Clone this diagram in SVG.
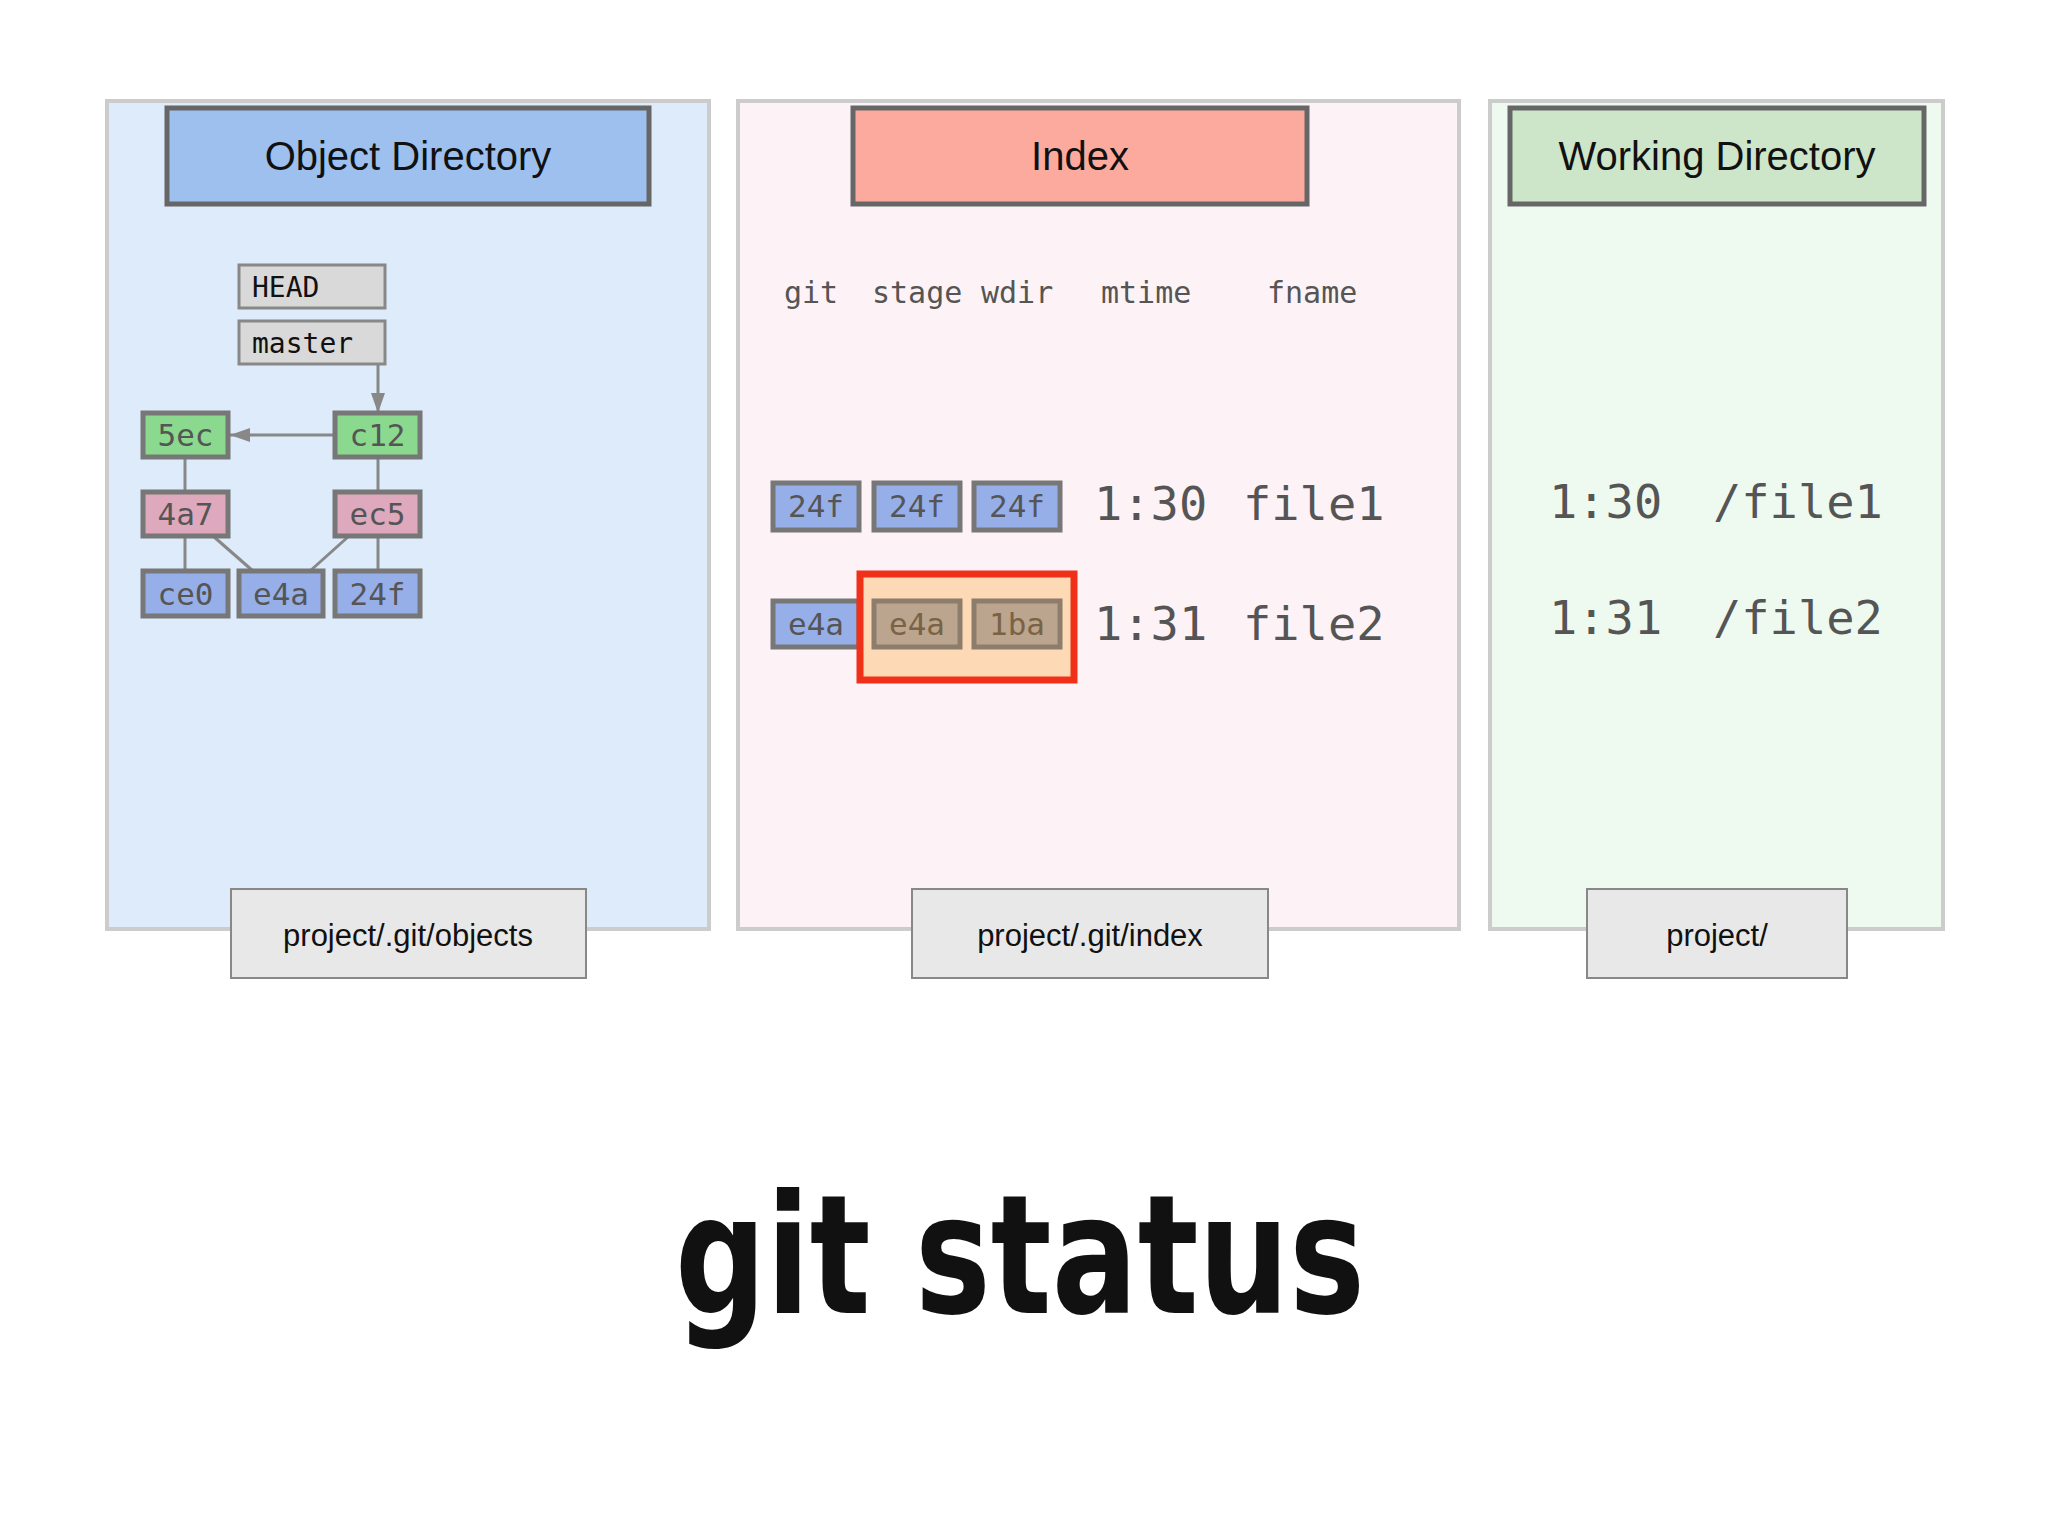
<svg xmlns="http://www.w3.org/2000/svg" width="2048" height="1536" viewBox="0 0 2048 1536">
<style>
.panel{stroke:#cccccc;stroke-width:4}
.title{stroke:#666;stroke-width:5}
.tt{font-family:"Liberation Sans",Arial,sans-serif;font-size:40px;fill:#111;text-anchor:middle}
.lab{fill:#e8e8e8;stroke:#888;stroke-width:2}
.lt{font-family:"Liberation Sans",Arial,sans-serif;font-size:31px;fill:#111;text-anchor:middle}
.ref{fill:#d9d9d9;stroke:#888;stroke-width:3}
.mono{font-family:"DejaVu Sans Mono","Liberation Mono",monospace}
.rt{font-size:28px;fill:#111}
.n{stroke:#777;stroke-width:5}
.g{fill:#8ad98f}.p{fill:#dfa9bd}.b{fill:#97afe8}.h{fill:#bba58f;stroke:#8d7d6d}
.nt{font-size:31px;fill:#555;text-anchor:middle}
.ht{fill:#7a6244}
.col{font-size:30px;fill:#555}
.big{font-size:47px;fill:#555}
.ln{stroke:#888;stroke-width:3;fill:none}
</style>
<defs>
<marker id="ah2" markerWidth="20" markerHeight="20" refX="20" refY="10" orient="auto" markerUnits="userSpaceOnUse"><path d="M0,3 L20,10 L0,17 z" fill="#888"/></marker></defs>
<rect width="2048" height="1536" fill="#fff"/>
<g id="panel-objects"><rect class="panel" x="107" y="101" width="602" height="828" fill="#deebfb"/>
<rect class="title" x="167" y="108" width="482" height="96" fill="#9dc0ef"/><text class="tt" x="408" y="170">Object Directory</text>
<rect class="lab" x="231" y="889" width="355" height="89"/><text class="lt" x="408" y="946">project/.git/objects</text></g>
<g id="panel-index"><rect class="panel" x="738" y="101" width="721" height="828" fill="#fdf3f6"/>
<rect class="title" x="853" y="108" width="454" height="96" fill="#fcaa9e"/><text class="tt" x="1080" y="170">Index</text>
<rect class="lab" x="912" y="889" width="356" height="89"/><text class="lt" x="1090" y="946">project/.git/index</text></g>
<g id="panel-wdir"><rect class="panel" x="1490" y="101" width="453" height="828" fill="#eefaf0"/>
<rect class="title" x="1510" y="108" width="414" height="96" fill="#cde5c8"/><text class="tt" x="1717" y="170">Working Directory</text>
<rect class="lab" x="1587" y="889" width="260" height="89"/><text class="lt" x="1717" y="946">project/</text></g>
<g id="connectors">
<line class="ln" x1="378" y1="364" x2="378" y2="413" marker-end="url(#ah2)"/>
<line class="ln" x1="335" y1="435" x2="230" y2="435" marker-end="url(#ah2)"/>
<line class="ln" x1="185" y1="457" x2="185" y2="492"/>
<line class="ln" x1="378" y1="457" x2="378" y2="492"/>
<line class="ln" x1="185" y1="536" x2="185" y2="571"/>
<line class="ln" x1="378" y1="536" x2="378" y2="571"/>
<line class="ln" x1="213" y1="536" x2="253" y2="571"/>
<line class="ln" x1="349" y1="536" x2="310" y2="571"/>
</g>
<g id="HEAD"><rect class="ref" x="239" y="265" width="146" height="43"/><text class="mono rt" x="252" y="297">HEAD</text></g>
<g id="master"><rect class="ref" x="239" y="321" width="146" height="43"/><text class="mono rt" x="252" y="353">master</text></g>
<g id="n5ec"><rect class="n g" x="143" y="413" width="85" height="44"/><text class="mono nt" x="185.5" y="446">5ec</text></g>
<g id="nc12"><rect class="n g" x="335" y="413" width="85" height="44"/><text class="mono nt" x="377.5" y="446">c12</text></g>
<g id="n4a7"><rect class="n p" x="143" y="492" width="85" height="44"/><text class="mono nt" x="185.5" y="525">4a7</text></g>
<g id="nec5"><rect class="n p" x="335" y="492" width="85" height="44"/><text class="mono nt" x="377.5" y="525">ec5</text></g>
<g id="nce0"><rect class="n b" x="143" y="571" width="85" height="45"/><text class="mono nt" x="185.5" y="605">ce0</text></g>
<g id="ne4a"><rect class="n b" x="239" y="571" width="84" height="45"/><text class="mono nt" x="281" y="605">e4a</text></g>
<g id="n24f"><rect class="n b" x="335" y="571" width="85" height="45"/><text class="mono nt" x="377.5" y="605">24f</text></g>
<g id="index-header" class="mono col"><text x="784" y="303">git</text><text x="872" y="303">stage</text><text x="981" y="303">wdir</text><text x="1101" y="303">mtime</text><text x="1267" y="303">fname</text></g>
<g id="row1">
<rect class="n b" x="773" y="483" width="86" height="47"/><text class="mono nt" x="816" y="517">24f</text>
<rect class="n b" x="874" y="483" width="86" height="47"/><text class="mono nt" x="917" y="517">24f</text>
<rect class="n b" x="974" y="483" width="86" height="47"/><text class="mono nt" x="1017" y="517">24f</text>
<text class="mono big" x="1094" y="520">1:30</text><text class="mono big" x="1243" y="520">file1</text></g>
<g id="row2">
<rect class="n b" x="773" y="601" width="86" height="46"/><text class="mono nt" x="816" y="635">e4a</text>
<rect x="860" y="574" width="214" height="106" fill="#fdd9b5" stroke="#f03018" stroke-width="7"/>
<rect class="n h" x="874" y="601" width="86" height="46"/><text class="mono nt ht" x="917" y="635">e4a</text>
<rect class="n h" x="974" y="601" width="86" height="46"/><text class="mono nt ht" x="1017" y="635">1ba</text>
<text class="mono big" x="1094" y="640">1:31</text><text class="mono big" x="1243" y="640">file2</text></g>
<g id="wdir-files"><text class="mono big" x="1549" y="518">1:30</text><text class="mono big" x="1713" y="518">/file1</text>
<text class="mono big" x="1549" y="634">1:31</text><text class="mono big" x="1713" y="634">/file2</text></g>
<text x="675" y="1313" textLength="690" lengthAdjust="spacingAndGlyphs" style="font-family:'DejaVu Sans','Liberation Sans',sans-serif;font-weight:bold;font-size:165px;fill:#111">git status</text>
</svg>
